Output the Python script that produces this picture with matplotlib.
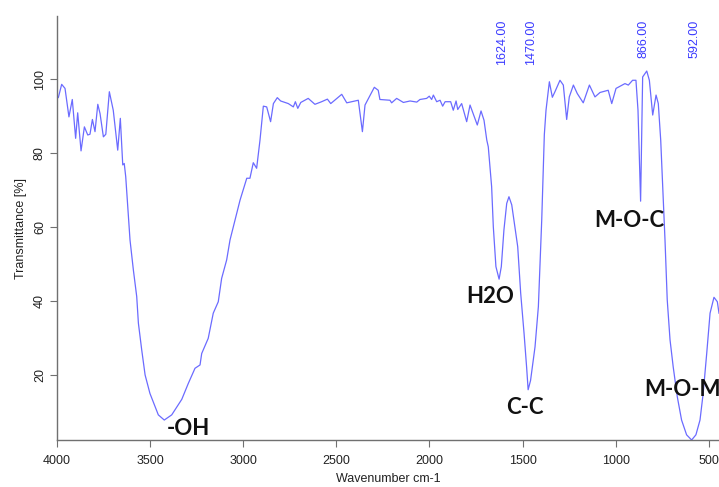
import matplotlib
matplotlib.use("Agg")
import matplotlib.pyplot as plt

wavenumber = [4000, 3993, 3975, 3957, 3936, 3918, 3900, 3889, 3871, 3853, 3835, 3823,
              3810, 3796, 3781, 3769, 3751, 3738, 3719, 3698, 3674, 3660, 3647, 3639,
              3631, 3608, 3590, 3572, 3563, 3545, 3527, 3501, 3456, 3424, 3384, 3330,
              3295, 3259, 3232, 3223, 3188, 3161, 3134, 3116, 3089, 3071, 3017, 2981,
              2964, 2946, 2928, 2910, 2892, 2874, 2853, 2838, 2817, 2799, 2758, 2731,
              2720, 2707, 2691, 2651, 2615, 2579, 2548, 2530, 2471, 2444, 2382, 2360,
              2346, 2296, 2275, 2266, 2212, 2203, 2176, 2140, 2104, 2068, 2051, 2015,
              2001, 1988, 1979, 1961, 1943, 1929, 1916, 1886, 1872, 1857, 1848, 1827,
              1800, 1782, 1743, 1723, 1707, 1692, 1684, 1666, 1657, 1643, 1626, 1614,
              1600, 1585, 1573, 1558, 1541, 1526, 1510, 1492, 1478, 1470, 1457, 1433,
              1415, 1397, 1383, 1374, 1356, 1340, 1326, 1299, 1281, 1263, 1249, 1227,
              1206, 1174, 1141, 1111, 1084, 1040, 1021, 998, 950, 932, 909, 891, 880,
              866, 855, 833, 819, 801, 783, 771, 758, 748, 735, 723, 708, 691, 669,
              646, 619, 592, 569, 547, 530, 511, 493, 472, 454, 445]
transmittance = [95.0, 95.0, 98.6, 97.5, 89.8, 94.5, 84.0, 90.9, 80.6, 87.1, 84.9, 85.1,
                 89.1, 85.8, 93.2, 90.7, 84.4, 85.1, 96.6, 91.6, 80.8, 89.4, 76.8, 77.2,
                 73.6, 56.5, 48.4, 41.2, 34.0, 26.7, 20.0, 15.0, 9.2, 7.8, 9.2, 13.4,
                 17.7, 21.8, 22.7, 25.8, 29.9, 36.7, 39.8, 46.1, 51.1, 56.5, 67.3, 73.2,
                 73.2, 77.4, 75.9, 83.5, 92.7, 92.5, 88.5, 93.4, 95.0, 94.1, 93.4, 92.5,
                 93.9, 92.1, 93.7, 94.8, 93.2, 93.9, 94.6, 93.4, 95.9, 93.6, 94.3, 85.8,
                 93.0, 97.8, 97.0, 94.5, 94.3, 93.6, 94.8, 93.7, 94.1, 93.8, 94.5, 94.8,
                 95.4, 94.5, 95.7, 93.9, 94.3, 92.7, 93.9, 93.9, 91.6, 94.1, 91.8, 93.4,
                 88.5, 93.0, 87.6, 91.4, 88.9, 83.5, 81.7, 70.9, 60.1, 49.3, 45.9, 49.3,
                 59.2, 66.4, 68.2, 66.0, 60.1, 54.7, 42.1, 31.3, 22.0, 16.0, 18.5, 27.6,
                 38.5, 61.9, 85.0, 91.6, 99.3, 95.1, 96.6, 99.7, 98.4, 89.1, 95.2, 98.4,
                 96.1, 93.6, 98.4, 95.2, 96.4, 97.0, 93.4, 97.5, 98.8, 98.4, 99.7, 99.7,
                 91.6, 67.0, 100.6, 102.2, 99.7, 90.3, 95.7, 93.4, 83.5, 71.8, 56.5, 40.3,
                 29.5, 22.2, 14.1, 7.8, 3.8, 2.4, 3.8, 7.8, 15.0, 25.8, 36.7, 41.0, 39.8,
                 36.7]

peak_positions = [1624, 1470, 866, 592]
peak_labels = ["1624.00", "1470.00", "866.00", "592.00"]

band_names = ["-OH", "H2O", "C-C", "M-O-C", "M-O-M"]
band_x = [3296, 1675, 1487, 928, 848]
band_y = [5.5, 41.3, 11.3, 61.9, 16.1]
band_ha = ["center", "center", "center", "center", "left"]

xticks = [4000, 3500, 3000, 2500, 2000, 1500, 1000, 500]
yticks = [20, 40, 60, 80, 100]

plt.rcParams['font.family'] = ['Liberation Sans', 'DejaVu Sans']

fig = plt.figure(figsize=(7.19, 4.87), dpi=100)
ax = fig.add_axes([0.0793, 0.0965, 0.9207, 0.870])
ax.plot(wavenumber, transmittance, color='#6b6bff', lw=0.9)
ax.set_xlim(4000, 445)
ax.set_ylim(2.4, 117.0)

for s in ['top', 'right']:
    ax.spines[s].set_visible(False)
for s in ['left', 'bottom']:
    ax.spines[s].set_color('#707070')
    ax.spines[s].set_linewidth(1.0)

ax.set_xticks(xticks)
ax.set_xticklabels([str(t) for t in xticks])
ax.set_yticks(yticks)
ax.set_yticklabels([str(t) for t in yticks], rotation=90, va='center')
ax.tick_params(axis='x', direction='out', length=5, color='#707070',
               labelsize=9, labelcolor='#222222', pad=6)
ax.tick_params(axis='y', direction='out', length=5, color='#707070',
               labelsize=9, labelcolor='#222222', pad=3)

ax.set_xlabel("Wavenumber cm-1", fontsize=9, color='#222222', labelpad=4)
ax.set_ylabel("Transmittance [%]", fontsize=9, color='#222222', labelpad=5)

for p, lab in zip(peak_positions, peak_labels):
    ax.text(p - 15, 116.0, lab, rotation=90, ha='center', va='top',
            fontsize=9, color='#3a3aff')

for name, x, y, ha in zip(band_names, band_x, band_y, band_ha):
    ax.text(x, y, name, ha=ha, va='center', fontsize=16, fontweight='bold',
            family=['Lato', 'DejaVu Sans'], color='#111111', clip_on=False)

fig.savefig("out.png", dpi=100)
